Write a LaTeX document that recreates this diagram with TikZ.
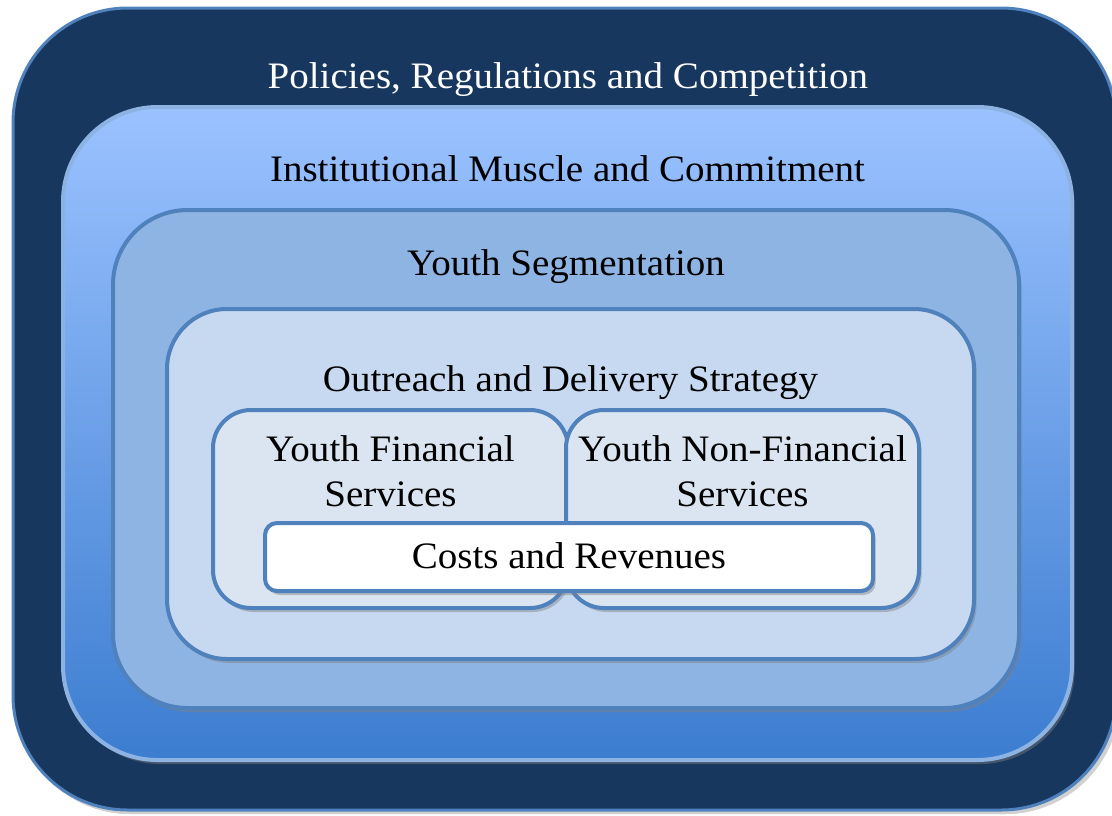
\documentclass[tikz,border=0pt]{standalone}
\usepackage{fontspec}
\setmainfont[FakeStretch=1.045]{Liberation Serif}
\usetikzlibrary{shapes, shadows}

\definecolor{navy}{HTML}{17375E}
\definecolor{edgeblue}{HTML}{4F81BD}
\definecolor{paleedge}{HTML}{8DB3E2}
\definecolor{skytop}{HTML}{9BC2FF}
\definecolor{skybottom}{HTML}{3C7DD0}
\definecolor{midblue}{HTML}{8EB4E3}
\definecolor{lightblue}{HTML}{C6D9F1}
\definecolor{paleblue}{HTML}{DBE5F1}

\tikzstyle{layer} = [rectangle, draw=edgeblue, line width=3pt, inner sep=0pt, drop shadow={shadow xshift=2pt, shadow yshift=-3pt, fill=gray, opacity=0.45}]
\tikzstyle{caption} = [font=\fontsize{28}{33.75}\selectfont, align=center, anchor=base, inner sep=0pt]

\begin{document}
\begin{tikzpicture}[x=0.75pt, y=-0.75pt]
	\useasboundingbox (0,0) rectangle (1112,815);

	% nested layers, outside in
	\node[layer, fill=navy, line width=2.25pt, rounded corners=86pt,
	minimum width=827.25pt, minimum height=601.5pt,
	drop shadow={shadow xshift=3pt, shadow yshift=-3pt, fill=black!18, opacity=1}] (policies) at (564.5,409) {};
	\node[layer, draw=paleedge, top color=skytop, bottom color=skybottom, rounded corners=71pt,
	minimum width=756.75pt, minimum height=489.75pt] (muscle) at (567.5,433.5) {};
	\node[layer, fill=midblue, rounded corners=56pt,
	minimum width=679.5pt, minimum height=373.5pt] (segment) at (566,459) {};
	\node[layer, fill=lightblue, rounded corners=45pt,
	minimum width=605.25pt, minimum height=262.5pt] (outreach) at (570.5,484) {};
	\node[layer, fill=paleblue, rounded corners=28.5pt,
	minimum width=266.25pt, minimum height=148.5pt] (finance) at (390.5,509) {};
	\node[layer, fill=paleblue, rounded corners=28.5pt,
	minimum width=264.75pt, minimum height=148.5pt] (nonfinance) at (742.5,509) {};
	\node[layer, fill=white, rounded corners=9pt,
	minimum width=456pt, minimum height=51pt] (costs) at (569,557) {};

	% Labels (base sits on the last line)
	\node[caption, text=white] (policiesText) at ([xshift=2.5pt, yshift=-61.5pt]policies.north) {Policies, Regulations and Competition};
	\node[caption] (muscleText) at ([yshift=-57pt]muscle.north) {Institutional Muscle and Commitment};
	\node[caption] (segmentText) at ([yshift=-50.25pt]segment.north) {Youth Segmentation};
	\node[caption] (outreachText) at ([yshift=-63pt]outreach.north) {Outreach and Delivery Strategy};
	\node[caption] (financeText) at ([yshift=-73.5pt]finance.north) {Youth Financial\\Services};
	\node[caption] (nonfinanceText) at ([yshift=-73.5pt]nonfinance.north) {Youth Non-Financial\\Services};
	\node[caption] (costsText) at ([yshift=-8.25pt]costs.center) {Costs and Revenues};
\end{tikzpicture}
\end{document}
